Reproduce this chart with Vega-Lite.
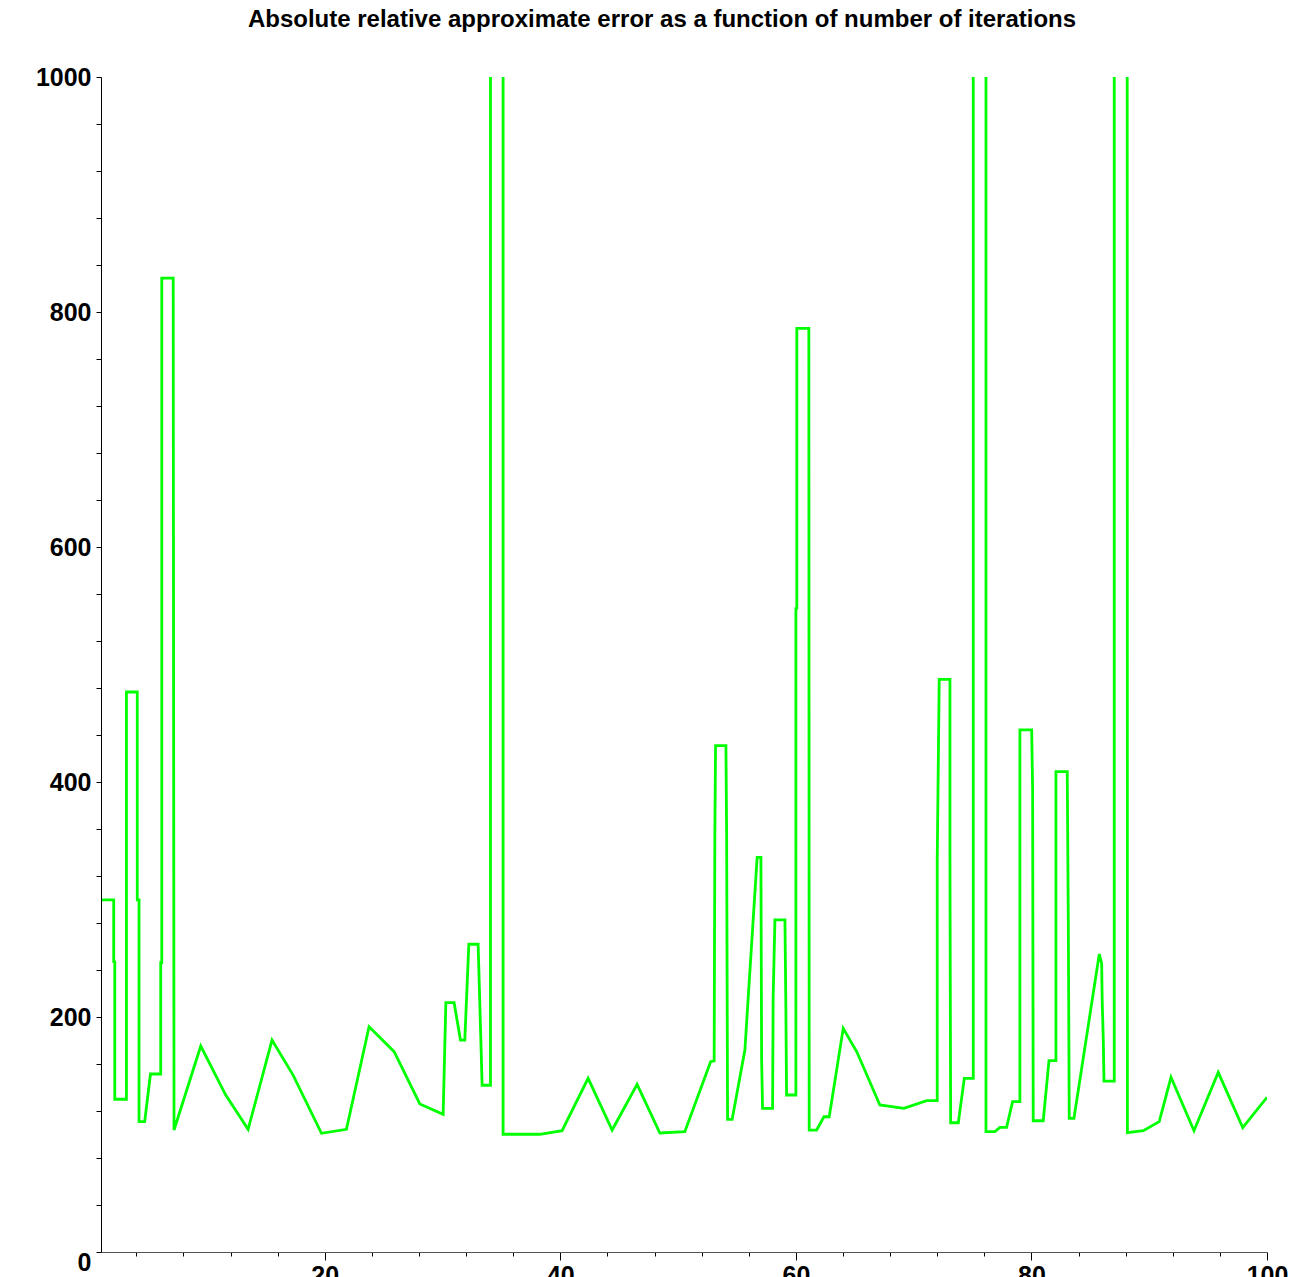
{
  "$schema": "https://vega.github.io/schema/vega-lite/v6.json",
  "width": 1166,
  "height": 1175,
  "padding": {"left": 35, "top": 8, "right": 0, "bottom": 0},
  "autosize": {"type": "pad"},
  "background": "white",
  "config": {"view": {"stroke": null}, "font": "Liberation Sans"},
  "title": {
    "text": "Absolute relative approximate error as a function of number of iterations",
    "font": "Liberation Sans",
    "fontSize": 24,
    "fontWeight": "bold",
    "color": "black",
    "anchor": "middle",
    "dx": -22,
    "offset": 33
  },
  "data": {
    "values": [
      {"i": 1, "x": 1.08, "y": 299.6},
      {"i": 2, "x": 2.08, "y": 299.6},
      {"i": 3, "x": 2.08, "y": 247.1},
      {"i": 4, "x": 2.17, "y": 246.8},
      {"i": 5, "x": 2.17, "y": 130.0},
      {"i": 6, "x": 3.16, "y": 130.0},
      {"i": 7, "x": 3.16, "y": 476.6},
      {"i": 8, "x": 4.08, "y": 476.6},
      {"i": 9, "x": 4.08, "y": 299.6},
      {"i": 10, "x": 4.23, "y": 299.6},
      {"i": 11, "x": 4.23, "y": 110.9},
      {"i": 12, "x": 4.71, "y": 110.9},
      {"i": 13, "x": 5.2, "y": 151.5},
      {"i": 14, "x": 6.07, "y": 151.5},
      {"i": 15, "x": 6.07, "y": 246.2},
      {"i": 16, "x": 6.16, "y": 246.2},
      {"i": 17, "x": 6.16, "y": 828.9},
      {"i": 18, "x": 7.13, "y": 828.9},
      {"i": 19, "x": 7.2, "y": 103.8},
      {"i": 20, "x": 9.47, "y": 175.3},
      {"i": 21, "x": 11.59, "y": 133.6},
      {"i": 22, "x": 13.49, "y": 104.4},
      {"i": 23, "x": 15.52, "y": 180.4},
      {"i": 24, "x": 17.31, "y": 150.6},
      {"i": 25, "x": 19.72, "y": 101.0},
      {"i": 26, "x": 21.84, "y": 104.4},
      {"i": 27, "x": 23.76, "y": 191.7},
      {"i": 28, "x": 25.89, "y": 170.5},
      {"i": 29, "x": 28.07, "y": 126.0},
      {"i": 30, "x": 30.05, "y": 117.2},
      {"i": 31, "x": 30.28, "y": 212.2},
      {"i": 32, "x": 30.98, "y": 212.2},
      {"i": 33, "x": 31.52, "y": 180.4},
      {"i": 34, "x": 31.89, "y": 180.4},
      {"i": 35, "x": 32.23, "y": 261.9},
      {"i": 36, "x": 33.02, "y": 261.9},
      {"i": 37, "x": 33.36, "y": 141.9},
      {"i": 38, "x": 34.07, "y": 141.9},
      {"i": 39, "x": 34.07, "y": 2000},
      {"i": 40, "x": 35.14, "y": 2000},
      {"i": 41, "x": 35.14, "y": 100.2},
      {"i": 42, "x": 38.26, "y": 100.2},
      {"i": 43, "x": 40.15, "y": 103.2},
      {"i": 44, "x": 42.36, "y": 147.8},
      {"i": 45, "x": 44.4, "y": 103.8},
      {"i": 46, "x": 46.52, "y": 142.7},
      {"i": 47, "x": 48.45, "y": 101.3},
      {"i": 48, "x": 50.57, "y": 102.4},
      {"i": 49, "x": 52.76, "y": 162.0},
      {"i": 50, "x": 53.06, "y": 162.6},
      {"i": 51, "x": 53.12, "y": 356.3},
      {"i": 52, "x": 53.18, "y": 430.9},
      {"i": 53, "x": 54.06, "y": 430.9},
      {"i": 54, "x": 54.12, "y": 354.9},
      {"i": 55, "x": 54.2, "y": 112.9},
      {"i": 56, "x": 54.59, "y": 112.9},
      {"i": 57, "x": 55.67, "y": 171.9},
      {"i": 58, "x": 56.71, "y": 335.9},
      {"i": 59, "x": 57.03, "y": 335.9},
      {"i": 60, "x": 57.09, "y": 164.0},
      {"i": 61, "x": 57.17, "y": 122.3},
      {"i": 62, "x": 58.02, "y": 122.3},
      {"i": 63, "x": 58.07, "y": 217.3},
      {"i": 64, "x": 58.22, "y": 282.6},
      {"i": 65, "x": 59.07, "y": 282.6},
      {"i": 66, "x": 59.15, "y": 207.4},
      {"i": 67, "x": 59.21, "y": 133.6},
      {"i": 68, "x": 60.0, "y": 133.6},
      {"i": 69, "x": 60.0, "y": 547.8},
      {"i": 70, "x": 60.08, "y": 548.0},
      {"i": 71, "x": 60.08, "y": 786.1},
      {"i": 72, "x": 61.1, "y": 786.1},
      {"i": 73, "x": 61.13, "y": 103.8},
      {"i": 74, "x": 61.76, "y": 103.8},
      {"i": 75, "x": 62.38, "y": 115.1},
      {"i": 76, "x": 62.83, "y": 115.1},
      {"i": 77, "x": 64.02, "y": 190.4},
      {"i": 78, "x": 65.18, "y": 170.2},
      {"i": 79, "x": 67.13, "y": 125.1},
      {"i": 80, "x": 69.17, "y": 122.3},
      {"i": 81, "x": 71.1, "y": 128.8},
      {"i": 82, "x": 72.0, "y": 128.8},
      {"i": 83, "x": 72.0, "y": 333.6},
      {"i": 84, "x": 72.17, "y": 487.4},
      {"i": 85, "x": 73.08, "y": 487.4},
      {"i": 86, "x": 73.08, "y": 339.3},
      {"i": 87, "x": 73.14, "y": 110.0},
      {"i": 88, "x": 73.79, "y": 110.0},
      {"i": 89, "x": 74.3, "y": 147.8},
      {"i": 90, "x": 75.06, "y": 147.8},
      {"i": 91, "x": 75.06, "y": 2000},
      {"i": 92, "x": 76.14, "y": 2000},
      {"i": 93, "x": 76.14, "y": 102.4},
      {"i": 94, "x": 76.9, "y": 102.4},
      {"i": 95, "x": 77.33, "y": 106.1},
      {"i": 96, "x": 77.89, "y": 106.1},
      {"i": 97, "x": 78.4, "y": 127.9},
      {"i": 98, "x": 79.02, "y": 127.9},
      {"i": 99, "x": 79.02, "y": 444.3},
      {"i": 100, "x": 80.02, "y": 444.3},
      {"i": 101, "x": 80.1, "y": 393.8},
      {"i": 102, "x": 80.15, "y": 111.7},
      {"i": 103, "x": 81.0, "y": 111.7},
      {"i": 104, "x": 81.49, "y": 162.8},
      {"i": 105, "x": 82.08, "y": 162.8},
      {"i": 106, "x": 82.08, "y": 408.8},
      {"i": 107, "x": 83.04, "y": 408.8},
      {"i": 108, "x": 83.13, "y": 281.1},
      {"i": 109, "x": 83.21, "y": 113.8},
      {"i": 110, "x": 83.61, "y": 113.8},
      {"i": 111, "x": 85.76, "y": 253.6},
      {"i": 112, "x": 85.96, "y": 245.7},
      {"i": 113, "x": 86.01, "y": 213.0},
      {"i": 114, "x": 86.1, "y": 180.4},
      {"i": 115, "x": 86.16, "y": 145.5},
      {"i": 116, "x": 87.03, "y": 145.5},
      {"i": 117, "x": 87.03, "y": 2000},
      {"i": 118, "x": 88.11, "y": 2000},
      {"i": 119, "x": 88.15, "y": 101.5},
      {"i": 120, "x": 89.5, "y": 103.2},
      {"i": 121, "x": 90.85, "y": 110.9},
      {"i": 122, "x": 91.85, "y": 148.7},
      {"i": 123, "x": 93.8, "y": 103.2},
      {"i": 124, "x": 95.86, "y": 152.9},
      {"i": 125, "x": 97.94, "y": 105.8},
      {"i": 126, "x": 100.0, "y": 131.7}
    ]
  },
  "mark": {"type": "line", "color": "#00ff00", "strokeWidth": 2.8, "clip": true, "interpolate": "linear"},
  "encoding": {
    "order": {"field": "i", "type": "quantitative"},
    "x": {
      "field": "x",
      "type": "quantitative",
      "scale": {"domain": [1, 100], "nice": false, "zero": false},
      "axis": {
        "title": null,
        "grid": false,
        "values": [4, 8, 12, 16, 20, 24, 28, 32, 36, 40, 44, 48, 52, 56, 60, 64, 68, 72, 76, 80, 84, 88, 92, 96, 100],
        "format": "d",
        "labelExpr": "datum.value % 20 === 0 ? datum.label : ''",
        "tickSize": {"condition": {"test": "datum.value % 20 === 0", "value": 8}, "value": 4},
        "tickColor": "black",
        "domainColor": "#555555",
        "labelFont": "Liberation Sans",
        "labelFontSize": 25,
        "labelFontWeight": "bold",
        "labelColor": "black",
        "labelPadding": 3,
        "labelFlush": false,
        "labelOverlap": false
      }
    },
    "y": {
      "field": "y",
      "type": "quantitative",
      "scale": {"domain": [0, 1000], "nice": false},
      "axis": {
        "title": null,
        "grid": false,
        "values": [0, 40, 80, 120, 160, 200, 240, 280, 320, 360, 400, 440, 480, 520, 560, 600, 640, 680, 720, 760, 800, 840, 880, 920, 960, 1000],
        "format": "d",
        "labelExpr": "datum.value % 200 === 0 ? datum.label : ''",
        "tickSize": 5,
        "tickColor": "black",
        "domainColor": "black",
        "labelFont": "Liberation Sans",
        "labelFontSize": 25,
        "labelFontWeight": "bold",
        "labelColor": "black",
        "labelPadding": 5,
        "labelFlush": false,
        "labelOverlap": false,
        "labelOffset": {"condition": {"test": "datum.value === 0", "value": 10}, "value": 0}
      }
    }
  }
}
